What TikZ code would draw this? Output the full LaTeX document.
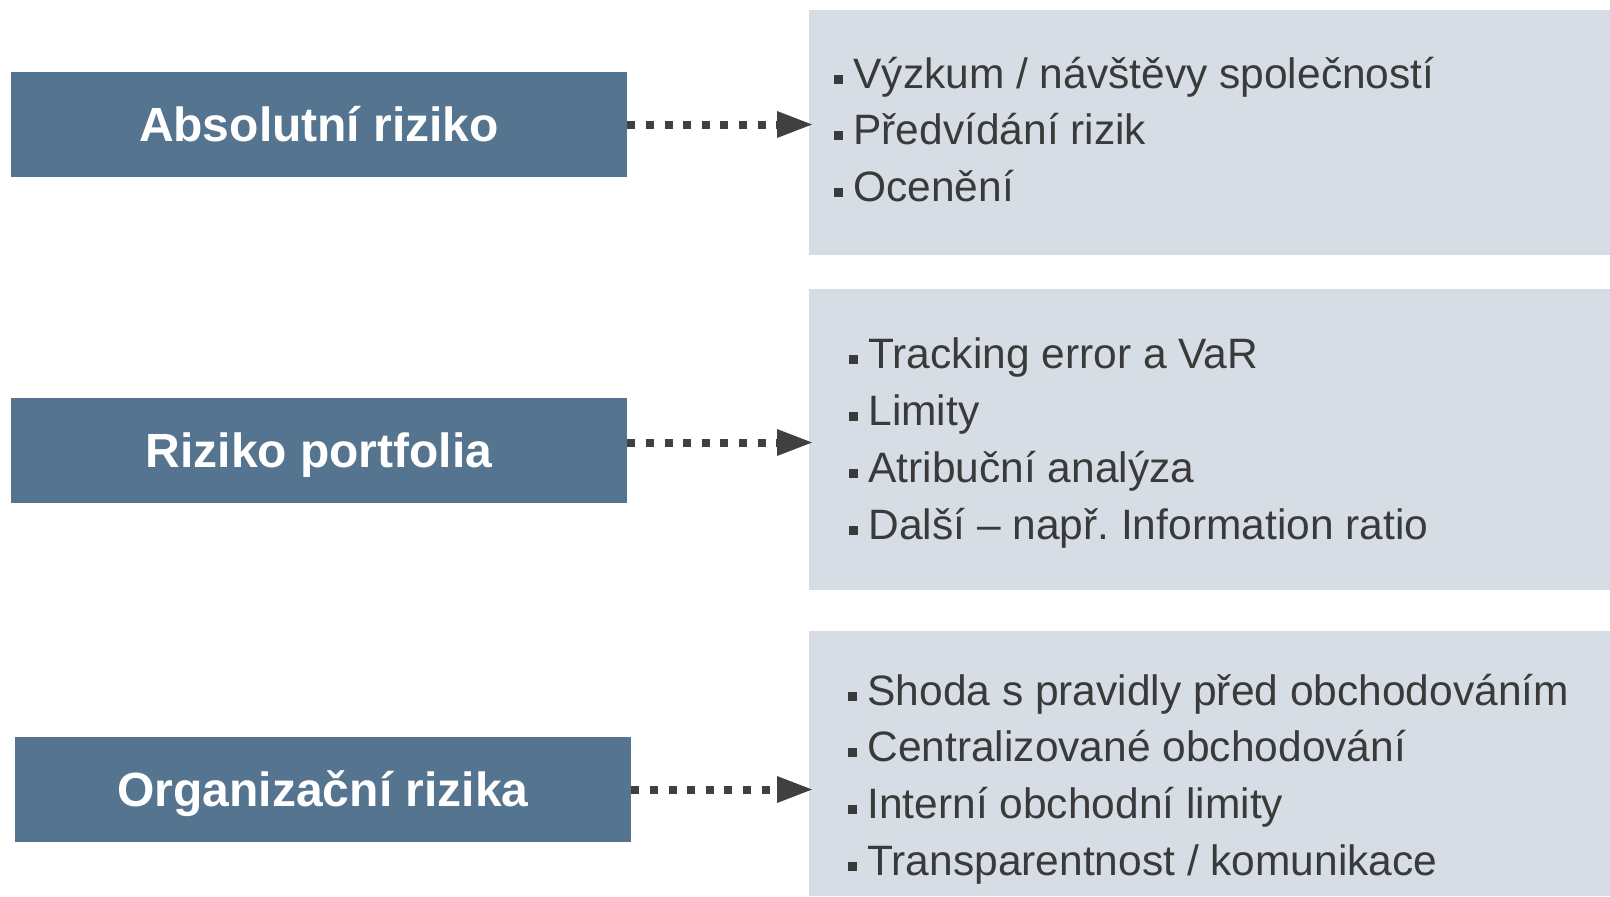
\documentclass[tikz,border=0pt]{standalone}
\usepackage{fontspec}
\setmainfont{Liberation Sans}
\usetikzlibrary{arrows.meta}
\definecolor{riskblue}{RGB}{84,116,143}
\definecolor{listgray}{RGB}{214,221,228}
\definecolor{txtgray}{RGB}{58,58,58}
\definecolor{arrowgray}{RGB}{64,64,64}
\newcommand{\bul}{\rule[2.2pt]{4.5pt}{4.5pt}\hspace{5pt}}
\frenchspacing
\begin{document}
\begin{tikzpicture}[x=0.5pt,y=-0.5pt,
  riskbox/.style={fill=riskblue, text=white, font=\bfseries\fontsize{24}{28}\selectfont,
    minimum width=308pt, minimum height=52.5pt, inner sep=0pt, text height=17.2pt, text depth=0pt},
  listbox/.style={fill=listgray, inner sep=0pt, anchor=north west, minimum width=400.5pt},
  item/.style={anchor=base west, inner sep=0pt, text=txtgray, font=\fontsize{21.25}{25}\selectfont},
  dotarrow/.style={draw=arrowgray, line width=4pt, dash pattern=on 4pt off 5.3pt,
    -{Triangle[length=17.5pt,width=13.5pt,line width=0pt]}}]
  \useasboundingbox (0,0) rectangle (1610,896);
  \node[listbox, minimum height=122.5pt] (detA) at (809,10) {};
  \node[listbox, minimum height=150.5pt] (detB) at (809,289) {};
  \node[listbox, minimum height=132.5pt] (detC) at (809,631) {};
  \node[riskbox] (absol) at (319,124.5) {Absolutní riziko};
  \node[riskbox] (portf) at (319,450) {Riziko portfolia};
  \node[riskbox] (organ) at (323,789.5) {Organizační rizika};
  \draw[dotarrow] (absol.east) -- ([xshift=1.5pt]absol.east -| detA.west);
  \draw[dotarrow] ([yshift=3.75pt]portf.east) -- ([xshift=1.5pt,yshift=3.75pt]portf.east -| detB.west);
  \draw[dotarrow] (organ.east) -- ([xshift=1.5pt]organ.east -| detC.west);
  \foreach \t [count=\i] in {Výzkum / návštěvy společností, Předvídání rizik, Ocenění}
    \node[item] (itA\i) at (834,{88+56.6*(\i-1)}) {\bul\t};
  \foreach \t [count=\i] in {Tracking error a VaR, Limity, Atribuční analýza, Další – např. Information ratio}
    \node[item] (itB\i) at (849,{368+57*(\i-1)}) {\bul\t};
  \foreach \t [count=\i] in {Shoda s pravidly před obchodováním, Centralizované obchodování, Interní obchodní limity, Transparentnost / komunikace}
    \node[item] (itC\i) at (848,{705+56.8*(\i-1)}) {\bul\t};
\end{tikzpicture}
\end{document}
